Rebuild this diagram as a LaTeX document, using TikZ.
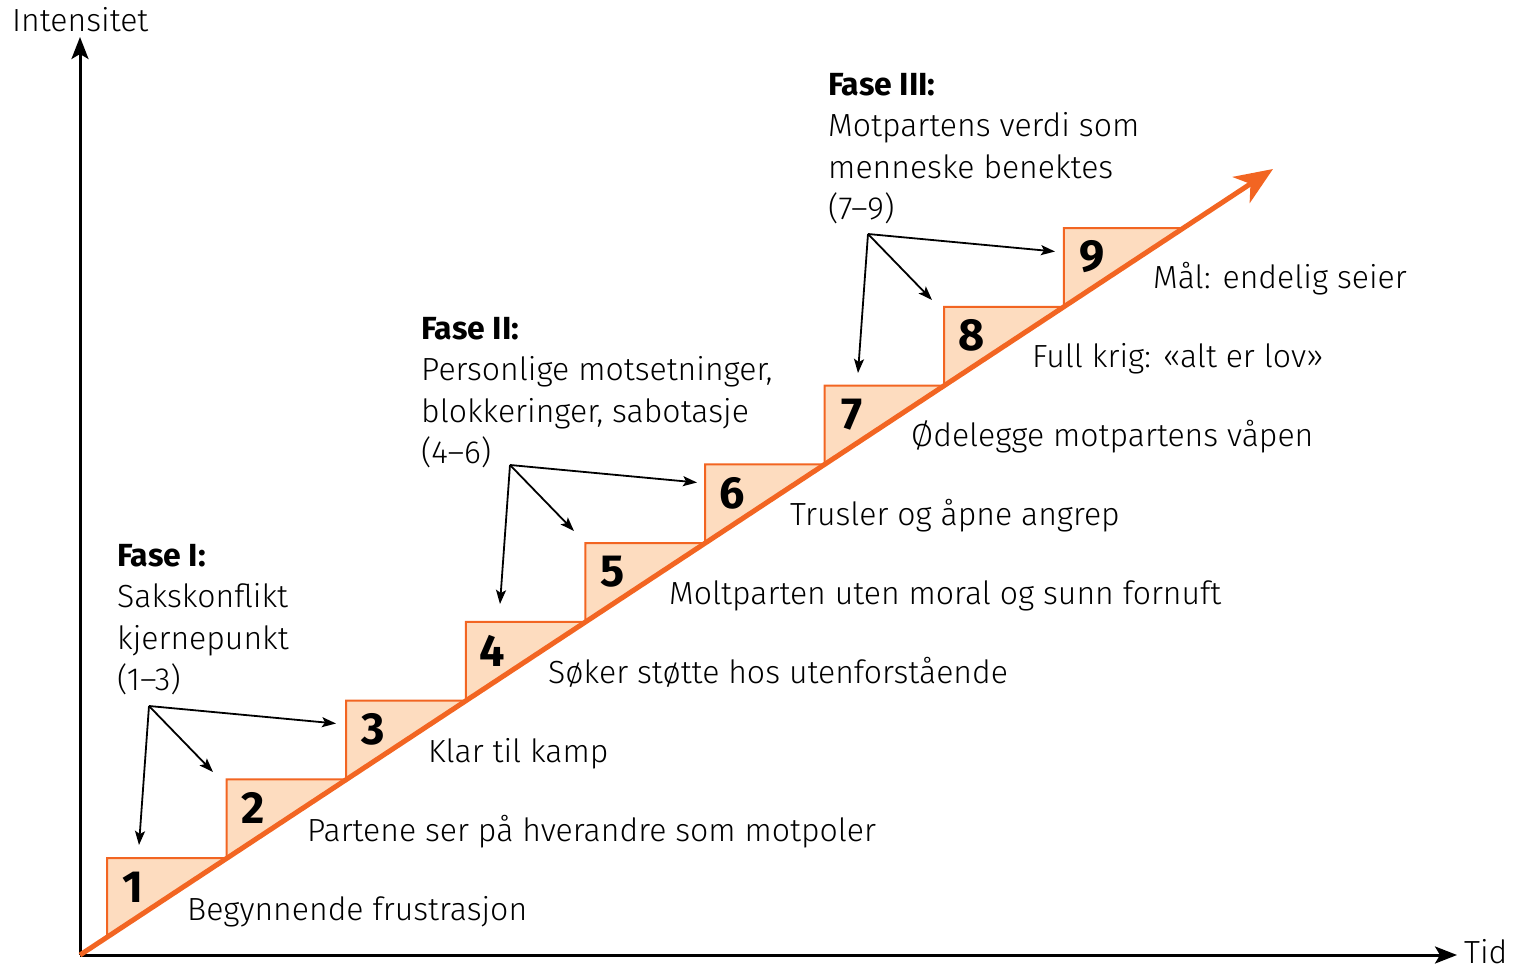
\documentclass[tikz,border=0pt]{standalone}
\usepackage{fontspec}
\setmainfont{Fira Sans}[UprightFont=* Light, BoldFont=* Bold]
\usetikzlibrary{arrows.meta}
\definecolor{orng}{HTML}{F26522}
\definecolor{peach}{HTML}{FDDCBF}
\begin{document}
\begin{tikzpicture}[x=1pt,y=-1pt,
  lbl/.style={font=\fontsize{32}{41.5}\selectfont, anchor=base west, inner sep=0pt},
  fase/.style={lbl, align=left},
  num/.style={font=\fontsize{45}{45}\selectfont\bfseries, anchor=center, inner sep=0pt},
  stepbox/.style={fill=peach, draw=orng, line width=2pt, line join=miter},
  axis/.style={line width=3pt, -{Stealth[length=22pt,width=17pt,inset=5pt]}},
  ptr/.style={line width=1.8pt, -{Stealth[length=14pt,width=10pt,inset=3pt]}},
  mainline/.style={draw=orng, line width=5pt, -{Stealth[length=38pt,width=31pt,inset=11pt]}}]
\useasboundingbox (0,0) rectangle (1513,966);
% axes
\coordinate (O) at (80,955);
\coordinate (Ytop) at (80,37);
\coordinate (Xend) at (1457,955);
\draw[axis] (O) -- (Ytop);
\draw[axis] (O) -- (Xend);
\node[lbl, anchor=west] (ylab) at (12,20) {Intensitet};
\node[lbl] (xlab) at (1464,963) {Tid};
% steps
\foreach \i in {0,...,8}{
  \pgfmathsetmacro\L{107+119.6*\i}
  \pgfmathsetmacro\T{858-78.75*\i}
  \pgfmathsetmacro\R{80+(955-\T)/0.6586}
  \pgfmathsetmacro\B{955-0.6586*(\L-80)}
  \draw[stepbox] (\L,\T) -- (\R,\T) -- (\L,\B) -- cycle;
  \pgfmathtruncatemacro\n{\i+1}
  \node[num] (num\n) at (\L+26+0.25*\i,\T+29) {\n};
}
\coordinate (Tip) at (1273,169);
\draw[mainline] (O) -- (Tip);
% step labels
\node[lbl] (lab1) at (187,920) {Begynnende frustrasjon};
\node[lbl] (lab2) at (307,841) {Partene ser på hverandre som motpoler};
\node[lbl] (lab3) at (428,762) {Klar til kamp};
\node[lbl] (lab4) at (548,683) {Søker støtte hos utenforstående};
\node[lbl] (lab5) at (669,604) {Moltparten uten moral og sunn fornuft};
\node[lbl] (lab6) at (790,525) {Trusler og åpne angrep};
\node[lbl] (lab7) at (911,446) {Ødelegge motpartens våpen};
\node[lbl] (lab8) at (1032,367) {Full krig: «alt er lov»};
\node[lbl] (lab9) at (1153,288) {Mål: endelig seier};
% phases (base anchor = last line)
\node[fase] (f1) at (117,690.5) {\textbf{Fase I:}\\Sakskonflikt\\kjernepunkt\\(1–3)};
\node[fase] (f2) at (421,463.5) {\textbf{Fase II:}\\Personlige motsetninger,\\blokkeringer, sabotasje\\(4–6)};
\node[fase] (f3) at (828,219.5) {\textbf{Fase III:}\\Motpartens verdi som\\menneske benektes\\(7–9)};
% pointers
\foreach \k/\x/\y in {1/149/706, 2/510/465, 3/868/234}{
  \coordinate (s\k) at (\x,\y);
  \coordinate (a\k) at (\x-10,\y+139);
  \coordinate (b\k) at (\x+64,\y+66);
  \coordinate (c\k) at (\x+187,\y+17.5);
  \draw[ptr] (s\k) -- (a\k);
  \draw[ptr] (s\k) -- (b\k);
  \draw[ptr] (s\k) -- (c\k);
}
\end{tikzpicture}
\end{document}
